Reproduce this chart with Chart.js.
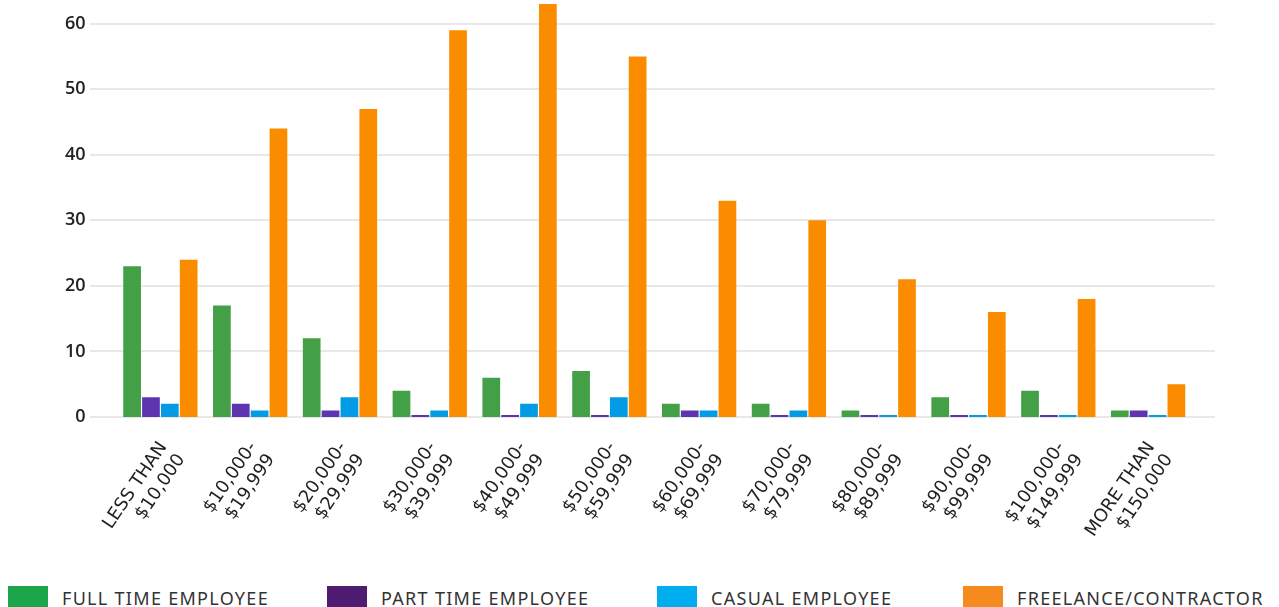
<!DOCTYPE html>
<html>
<head>
<meta charset="utf-8">
<script src="https://cdn.jsdelivr.net/npm/chart.js@4"></script>
<style>
  html, body { margin: 0; padding: 0; background: #fff; overflow: hidden; }
  #wrap { position: relative; width: 1279px; height: 607px; overflow: hidden; }
  #chartBox { position: absolute; left: 0; top: -32px; width: 1279px; height: 598px; }
  #legend { position: absolute; left: 0; top: 586px; width: 1279px; height: 30px; }
  .item { position: absolute; top: 0; display: flex; align-items: flex-start; }
  .swatch { width: 40px; height: 24px; }
  .item span { margin-left: 14px; margin-top: 0px; font-family: "Noto Sans", sans-serif; font-size: 18px; color: #333; letter-spacing: 1.3px; }
</style>
</head>
<body>
<div id="wrap">
  <div id="chartBox"><canvas id="incomeChart"></canvas></div>
  <div id="legend"></div>
</div>
<script>
  var categories = [
    ['LESS THAN', '$10,000'],
    ['$10,000-', '$19,999'],
    ['$20,000-', '$29,999'],
    ['$30,000-', '$39,999'],
    ['$40,000-', '$49,999'],
    ['$50,000-', '$59,999'],
    ['$60,000-', '$69,999'],
    ['$70,000-', '$79,999'],
    ['$80,000-', '$89,999'],
    ['$90,000-', '$99,999'],
    ['$100,000-', '$149,999'],
    ['MORE THAN', '$150,000']
  ];
  var fullTime   = [23, 17, 12, 4, 6, 7, 2, 2, 1, 3, 4, 1];
  var partTime   = [3, 2, 1, 0, 0, 0, 1, 0, 0, 0, 0, 1];
  var casual     = [2, 1, 3, 1, 2, 3, 1, 1, 0, 0, 0, 0];
  var freelance  = [24, 44, 47, 59, 63, 55, 33, 30, 21, 16, 18, 5];
  var seriesNames = ['FULL TIME EMPLOYEE', 'PART TIME EMPLOYEE', 'CASUAL EMPLOYEE', 'FREELANCE/CONTRACTOR'];
  var yTicks = [0, 10, 20, 30, 40, 50, 60];

  var barColors = ['#43a047', '#5e35b1', '#039be5', '#fb8c00'];
  var keyColors = ['#1ca64c', '#4e1d72', '#00aeef', '#f58a1f'];
  var keyLeft = [8, 327, 657, 963];

  // horizontal guide lines, a little wider than the plot itself
  var guideLines = {
    id: 'guideLines',
    beforeDatasetsDraw: function (chart) {
      var ctx = chart.ctx;
      var y = chart.scales.y;
      ctx.save();
      ctx.strokeStyle = '#e8e8e8';
      ctx.lineWidth = 2;
      yTicks.forEach(function (t) {
        var py = Math.round(y.getPixelForValue(t));
        ctx.beginPath();
        ctx.moveTo(90, py);
        ctx.lineTo(1215, py);
        ctx.stroke();
      });
      ctx.restore();
    }
  };

  var seriesData = [fullTime, partTime, casual, freelance];
  var datasets = seriesData.map(function (d, i) {
    return {
      label: seriesNames[i],
      data: d,
      backgroundColor: barColors[i],
      minBarLength: 2,
      barPercentage: 0.94,
      categoryPercentage: 0.84
    };
  });

  new Chart(document.getElementById('incomeChart'), {
    type: 'bar',
    data: { labels: categories, datasets: datasets },
    options: {
      responsive: true,
      maintainAspectRatio: false,
      animation: false,
      layout: { padding: { left: 60.5, right: 86, top: 0, bottom: 0 } },
      plugins: {
        legend: { display: false },
        tooltip: { enabled: false }
      },
      scales: {
        x: {
          grid: { display: false },
          border: { display: false },
          ticks: {
            maxRotation: 56,
            minRotation: 56,
            autoSkip: false,
            labelOffset: 3,
            padding: 13,
            color: '#222',
            font: { family: '"DejaVu Sans", sans-serif', size: 18 }
          }
        },
        y: {
          min: 0,
          max: 63.5,
          grid: { display: false },
          border: { display: false },
          afterFit: function (s) { s.width = 55; },
          afterBuildTicks: function (s) {
            s.ticks = yTicks.map(function (v) { return { value: v }; });
          },
          ticks: {
            padding: 22,
            color: '#222',
            font: { family: '"Open Sans", sans-serif', size: 18, weight: '600' }
          }
        }
      }
    },
    plugins: [guideLines]
  });

  // key under the chart
  var legend = document.getElementById('legend');
  seriesNames.forEach(function (name, i) {
    var item = document.createElement('div');
    item.className = 'item';
    item.style.left = keyLeft[i] + 'px';
    var sw = document.createElement('div');
    sw.className = 'swatch';
    sw.style.background = keyColors[i];
    var txt = document.createElement('span');
    txt.textContent = name;
    item.appendChild(sw);
    item.appendChild(txt);
    legend.appendChild(item);
  });
</script>
</body>
</html>
